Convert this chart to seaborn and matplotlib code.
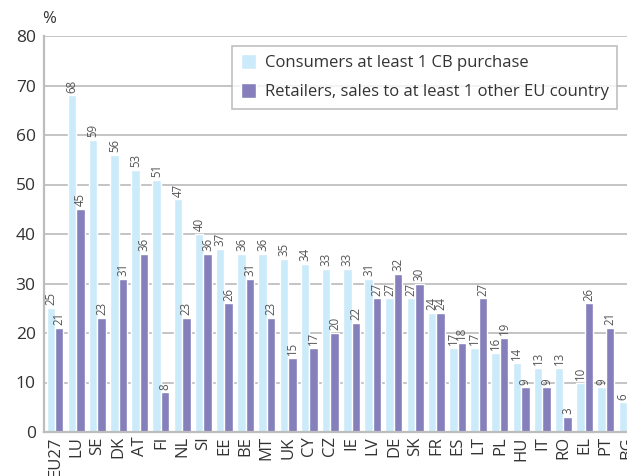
import numpy as np
import pandas as pd
import matplotlib
matplotlib.use("Agg")
import matplotlib.pyplot as plt
import seaborn as sns

countries = ["EU27", "LU", "SE", "DK", "AT", "FI", "NL", "SI", "EE", "BE", "MT", "UK", "CY", "CZ",
             "IE", "LV", "DE", "SK", "FR", "ES", "LT", "PL", "HU", "IT", "RO", "EL", "PT", "BG"]
consumers = [25, 68, 59, 56, 53, 51, 47, 40, 37, 36, 36, 35, 34, 33,
             33, 31, 27, 27, 24, 17, 17, 16, 14, 13, 13, 10, 9, 6]
retailers = [21, 45, 23, 31, 36, 8, 23, 36, 26, 31, 23, 15, 17, 20,
             22, 27, 32, 30, 24, 18, 27, 19, 9, 9, 3, 26, 21, np.nan]
series_names = ["Consumers at least 1 CB purchase", "Retailers, sales to at least 1 other EU country"]

df = pd.DataFrame({
    "country": countries * 2,
    "value": consumers + retailers,
    "series": [series_names[0]] * len(countries) + [series_names[1]] * len(countries),
})

sns.set_style("white")
plt.rcParams["font.family"] = ["Open Sans", "DejaVu Sans"]

fig = plt.figure(figsize=(6.27, 4.76), dpi=100)
ax = fig.add_axes([44 / 627, 1 - 432 / 476, 1 - 44 / 627, (432 - 36) / 476])

palette = ["#cbeafa", "#8580bb"]
sns.barplot(data=df, x="country", y="value", hue="series", palette=palette,
            width=0.8, saturation=1, ax=ax, zorder=2)

for cont in ax.containers:
    ax.bar_label(cont, fmt="%.0f", rotation=90, padding=2, fontsize=8.3, color="#555555")

ax.set_ylim(0, 80)
ax.set_xlim(-0.52, 27.0)
ax.set_yticks(range(0, 81, 10))
ax.yaxis.grid(True, color="#c4c4c4", linewidth=1.4, zorder=0)
ax.set_axisbelow(True)
for side in ["top", "right"]:
    ax.spines[side].set_visible(False)
for side in ["left", "bottom"]:
    ax.spines[side].set_color("#bdbdbd")
    ax.spines[side].set_linewidth(1.6)
ax.tick_params(axis="y", labelsize=12.5, colors="#333333", length=0, pad=6)
ax.tick_params(axis="x", labelsize=12, colors="#333333", length=0, rotation=90, pad=3)
ax.set_xlabel("")
ax.set_ylabel("")

fig.text(42 / 627, 1 - 19 / 476, "%", fontsize=12, color="#333333", va="center")

leg = ax.legend(loc="upper left", bbox_to_anchor=(0.323, 0.975), frameon=True, fancybox=False,
                fontsize=12, handlelength=0.9, handleheight=1.0, handletextpad=0.55,
                labelspacing=0.7, borderpad=0.5, borderaxespad=0)
leg.get_frame().set_edgecolor("#b0b0b0")
leg.get_frame().set_linewidth(1.2)
for t in leg.get_texts():
    t.set_color("#333333")

fig.savefig("out.png", dpi=100)
